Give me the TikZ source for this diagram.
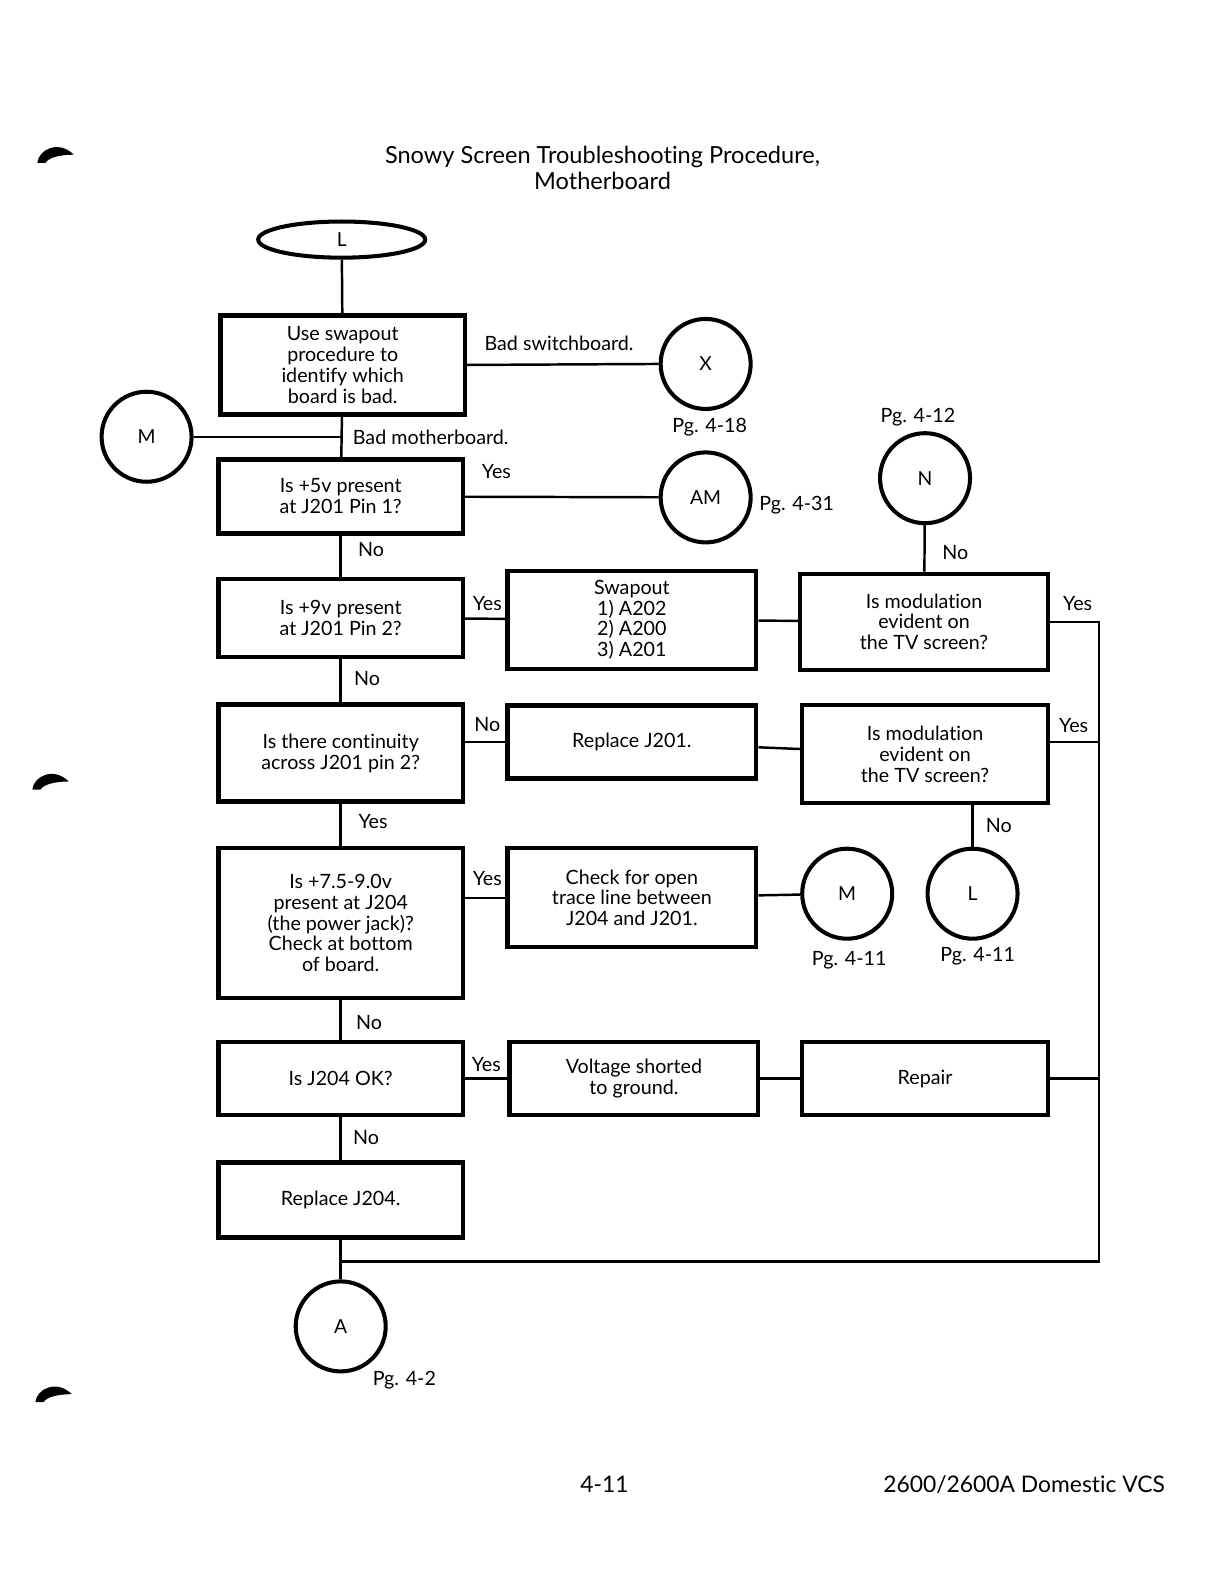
\documentclass[tikz,border=0pt]{standalone}
\usepackage{fontspec}
\setmainfont{Lato}[Ligatures=NoCommon]
\usetikzlibrary{shapes.geometric,positioning}

\begin{document}
\begin{tikzpicture}[
        x=0.02022cm, y=-0.02022cm,
        box/.style={rectangle, draw, line width=2.5pt, fill=white,
            minimum width=4.89cm, minimum height=#1,
            align=center, inner sep=2pt,
            font=\fontsize{11.2}{11.8}\selectfont},
        box/.default=1.5cm,
        conn/.style={circle, draw, line width=2.3pt, minimum size=1.8cm,
            inner sep=0pt, font=\fontsize{11}{12}\selectfont},
        link/.style={line width=1.4pt},
        lbl/.style={inner sep=1pt, font=\fontsize{11.2}{12}\selectfont}
    ]
        \useasboundingbox (0,0) rectangle (1211.7,1567.8);

        % Title
        \node[font=\fontsize{13.4}{15.2}\selectfont, align=center] (title) at (596,166)
            {Snowy Screen Troubleshooting Procedure,\\Motherboard};

        % Punch hole marks
        \foreach \xx/\yy in {37/161, 32/781, 35/1387}
            \fill (\xx,\yy) .. controls (\xx+1,\yy-13) and (\xx+21,\yy-23) .. (\xx+36,\yy-8)
                .. controls (\xx+22,\yy-8) and (\xx+11,\yy-5) .. (\xx+8,\yy) -- cycle;

        % Main column
        \node[ellipse, draw, line width=2.3pt, minimum width=3.34cm, minimum height=0.7cm,
            font=\fontsize{11}{12}\selectfont] (start) at (338,237) {L};
        \node[box=1.98cm] (swapproc) at (339,361) {Use swapout\\procedure to\\identify which\\board is bad.};
        \node[box=1.48cm] (fivev) at (337,491) {Is +5v present\\at J201 Pin 1?};
        \node[box=1.56cm] (ninev) at (337,611) {Is +9v present\\at J201 Pin 2?};
        \node[box=1.94cm] (contin) at (337,745) {Is there continuity\\across J201 pin 2?};
        \node[box=3.01cm] (jackv) at (337,913) {Is +7.5-9.0v\\present at J204\\(the power jack)?\\Check at bottom\\of board.};
        \node[box=1.46cm] (jackok) at (337,1067) {Is J204 OK?};
        \node[box=1.5cm] (repjack) at (337,1187) {Replace J204.};

        % Middle column
        \node[box=1.96cm, minimum width=4.97cm] (swapout) at (625,613) {Swapout\\1) A202\\2) A200\\3) A201};
        \node[box=1.46cm, minimum width=4.97cm] (repj201) at (625,734) {Replace J201.};
        \node[box=1.98cm, minimum width=4.97cm] (trace) at (625,888) {Check for open\\trace line between\\J204 and J201.};
        \node[box=1.46cm, minimum width=4.97cm] (shorted) at (627,1067) {Voltage shorted\\to ground.};

        % Right column
        \node[box=1.92cm, minimum width=4.95cm] (modone) at (914,615) {Is modulation\\evident on\\the TV screen?};
        \node[box=1.96cm, minimum width=4.91cm] (modtwo) at (915,746) {Is modulation\\evident on\\the TV screen?};
        \node[box=1.46cm, minimum width=4.91cm] (repair) at (915,1067) {Repair};

        % Connectors (off-page)
        \node[conn] (cX) at (698,360) {X};
        \node[conn] (cMleft) at (145,432) {M};
        \node[conn] (cAM) at (698,492) {AM};
        \node[conn] (cN) at (915,473) {N};
        \node[conn] (cMright) at (838,884) {M};
        \node[conn] (cLright) at (962,884) {L};
        \node[conn] (cA) at (337,1312) {A};

        % Page references
        \node[lbl] (pgX) at (702,423) {Pg. 4-18};
        \node[lbl] (pgAM) at (788,500) {Pg. 4-31};
        \node[lbl] (pgN) at (908,413) {Pg. 4-12};
        \node[lbl] (pgM) at (840,950) {Pg. 4-11};
        \node[lbl] (pgL) at (967,946) {Pg. 4-11};
        \node[lbl] (pgA) at (400,1365) {Pg. 4-2};

        % Return path coordinates
        \coordinate (rtop) at (1087,615);
        \coordinate (rbot) at (1087,1248);
        \coordinate (join) at (337,1248);

        % Connections
        \draw[link] (start) -- (swapproc);
        \draw[link] (swapproc.east) -- (cX.west);
        \draw[link] (cMleft) -- (cMleft -| swapproc.south);
        \draw[link] (swapproc) -- (fivev);
        \draw[link] (fivev) -- (cAM);
        \draw[link] (fivev) -- (ninev);
        \draw[link] (ninev) -- (swapout);
        \draw[link] (swapout) -- (modone);
        \draw[link] (cN) -- (modone);
        \draw[link] (modone.east) -- (rtop) -- (rbot) -- (join);
        \draw[link] (ninev) -- (contin);
        \draw[link] (contin.east |- repj201) -- (repj201);
        \draw[link] (repj201) -- (modtwo);
        \draw[link] (modtwo.east |- repj201) -- (repj201 -| rtop);
        \draw[link] (modtwo.south -| cLright) -- (cLright);
        \draw[link] (contin) -- (jackv);
        \draw[link] (jackv.east |- trace) -- (trace);
        \draw[link] (trace) -- (cMright);
        \draw[link] (jackv) -- (jackok);
        \draw[link] (jackok) -- (shorted);
        \draw[link] (shorted) -- (repair);
        \draw[link] (repair.east) -- (repair.east -| rtop);
        \draw[link] (jackok) -- (repjack);
        \draw[link] (repjack) -- (cA);

        % Branch labels
        \node[lbl] at (553,340) {Bad switchboard.};
        \node[lbl] at (426,433) {Bad motherboard.};
        \node[lbl] at (491,466) {Yes};
        \node[lbl] at (367,544) {No};
        \node[lbl] at (482,597) {Yes};
        \node[lbl] at (945,547) {No};
        \node[lbl] at (1066,597) {Yes};
        \node[lbl] at (363,671) {No};
        \node[lbl] at (482,717) {No};
        \node[lbl] at (1062,718) {Yes};
        \node[lbl] at (988,817) {No};
        \node[lbl] at (369,813) {Yes};
        \node[lbl] at (482,869) {Yes};
        \node[lbl] at (365,1011) {No};
        \node[lbl] at (481,1053) {Yes};
        \node[lbl] at (362,1125) {No};

        % Footer
        \node[font=\fontsize{13}{15}\selectfont] (pagenum) at (598,1468) {4-11};
        \node[font=\fontsize{13}{15}\selectfont] (model) at (1013,1468) {2600/2600A Domestic VCS};
    \end{tikzpicture}
\end{document}
